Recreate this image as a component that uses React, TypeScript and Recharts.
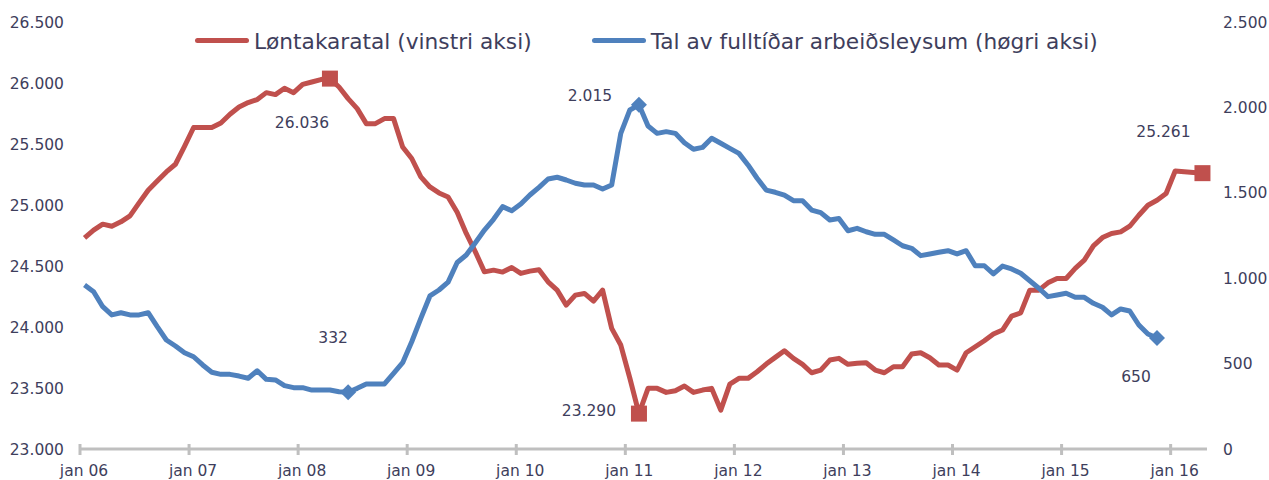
import React from "react";
import { LineChart, Line, XAxis, YAxis, Legend } from "recharts";

const TICK_LABELS = [
  "jan 06", "jan 07", "jan 08", "jan 09", "jan 10", "jan 11",
  "jan 12", "jan 13", "jan 14", "jan 15", "jan 16",
];

// Løntakaratal, jan 06 - apr 16 (vinstri aksi)
const LONTAKARAR = [
  24730, 24794, 24843, 24826, 24862, 24911, 25017, 25121, 25197, 25271, 25334, 25481,
  25635, 25635, 25635, 25672, 25744, 25803, 25840, 25864, 25921, 25905, 25957, 25921,
  25989, 26008, 26028, 26036, 25967, 25872, 25790, 25667, 25667, 25708, 25708, 25476,
  25381, 25230, 25148, 25099, 25066, 24940, 24767, 24616, 24452, 24466, 24450, 24488,
  24439, 24458, 24470, 24370, 24302, 24179, 24261, 24275, 24212, 24302, 23989, 23852,
  23580, 23290, 23497, 23497, 23464, 23478, 23516, 23464, 23483, 23497, 23319, 23532,
  23579, 23579, 23633, 23696, 23751, 23805, 23743, 23694, 23625, 23647, 23729, 23743,
  23694, 23702, 23707, 23647, 23625, 23674, 23674, 23778, 23789, 23748, 23688, 23688,
  23647, 23789, 23838, 23887, 23942, 23975, 24089, 24116, 24302, 24302, 24362, 24398,
  24398, 24480, 24548, 24665, 24733, 24767, 24780, 24826, 24916, 24998, 25039, 25094,
  25279, 25272, 25266, 25261,
];

// Tal av fulltíðar arbeiðsleysum, jan 06 - nov 15 (høgri aksi)
const ARBEIDSLEYSI = [
  960, 921, 833, 785, 798, 785, 785, 798, 716, 638, 603, 564,
  540, 492, 449, 437, 437, 427, 414, 458, 408, 404, 371, 359,
  359, 345, 345, 345, 335, 332, 355, 381, 381, 381, 443, 505,
  628, 765, 896, 931, 977, 1092, 1136, 1208, 1282, 1345, 1419, 1395,
  1434, 1487, 1532, 1581, 1591, 1575, 1556, 1546, 1546, 1522, 1546, 1848,
  1985, 2015, 1891, 1848, 1858, 1848, 1793, 1755, 1766, 1819, 1790, 1760,
  1731, 1663, 1585, 1516, 1503, 1487, 1454, 1454, 1399, 1384, 1341, 1349,
  1278, 1292, 1272, 1257, 1257, 1224, 1190, 1175, 1132, 1142, 1152, 1161,
  1142, 1161, 1073, 1073, 1025, 1071, 1054, 1029, 985, 941, 892, 902,
  912, 888, 888, 853, 830, 785, 820, 808, 726, 673, 650,
];

const LEFT_TICKS = [23000, 23500, 24000, 24500, 25000, 25500, 26000, 26500];
const RIGHT_TICKS = [0, 500, 1000, 1500, 2000, 2500];

const RED = "#C0504D";
const BLUE = "#4F81BD";
const TEXT = "#3E3E5C";
const GRID = "#BFBFBF";
const FONT = "DejaVu Sans";

// label offsets for the marked points (index -> [dx, dy])
const RED_MARKS: Record<number, [number, number]> = { 27: [-28, 44], 61: [-50, -3], 123: [-39, -41] };
const BLUE_MARKS: Record<number, [number, number]> = { 29: [-15, -54], 61: [-49, -9], 118: [-21, 39] };

const data = LONTAKARAR.map((v, i) => ({
  i,
  lon: v,
  arb: i < ARBEIDSLEYSI.length ? ARBEIDSLEYSI[i] : null,
}));

const fmt = (v: number) => String(Math.round(v)).replace(/\B(?=(\d{3})+(?!\d))/g, ".");

const XTick = (props: any) => {
  const { x, y, payload } = props;
  const k = Math.round((payload.value + 0.5) / 12);
  const axisY = y - 5;
  return (
    <g>
      <line x1={x} x2={x} y1={axisY - 5} y2={axisY + 6} stroke={GRID} strokeWidth={3} />
      <text x={x + 4} y={axisY + 27} textAnchor="middle" fill={TEXT} fontSize={15.5} fontFamily={FONT}>
        {TICK_LABELS[k]}
      </text>
    </g>
  );
};

const makeDot = (marks: Record<number, [number, number]>, color: string, shape: "square" | "diamond") =>
  (p: any) => {
    const off = marks[p.index];
    if (!off || p.cx == null || p.cy == null) return <g key={`d-${p.index}`} />;
    const s = 8;
    return (
      <g key={`d-${p.index}`}>
        {shape === "square" ? (
          <rect x={p.cx - s} y={p.cy - s} width={s * 2} height={s * 2} fill={color} />
        ) : (
          <polygon
            points={`${p.cx},${p.cy - s} ${p.cx + s},${p.cy} ${p.cx},${p.cy + s} ${p.cx - s},${p.cy}`}
            fill={color}
          />
        )}
        <text
          x={p.cx + off[0]}
          y={p.cy + off[1]}
          textAnchor="middle"
          dominantBaseline="central"
          fill={TEXT}
          fontSize={15.5}
          fontFamily={FONT}
        >
          {fmt(p.value)}
        </text>
      </g>
    );
  };

const LegendContent = (props: any) => {
  const items = props.payload || [];
  return (
    <div
      style={{
        display: "flex",
        alignItems: "center",
        paddingLeft: 195,
        fontFamily: FONT,
        fontSize: 21.7,
        lineHeight: "22px",
        color: TEXT,
        whiteSpace: "nowrap",
      }}
    >
      {items.map((it: any, k: number) => (
        <React.Fragment key={k}>
          <span
            style={{
              display: "inline-block",
              width: 54,
              height: 5,
              borderRadius: 3,
              background: it.color,
              marginLeft: k === 0 ? 0 : 60,
              marginRight: 5,
              position: "relative",
              top: -2,
            }}
          />
          <span>{it.value}</span>
        </React.Fragment>
      ))}
    </div>
  );
};

export default function App() {
  return (
    <div style={{ position: "absolute", left: 0, top: 0, width: 1269, height: 480, background: "#fff" }}>
      <LineChart width={1269} height={480} data={data} margin={{ top: 22, right: 0, bottom: 0, left: 0 }}>
        <XAxis
          dataKey="i"
          type="number"
          domain={[-0.5, LONTAKARAR.length - 0.5]}
          ticks={TICK_LABELS.map((_, k) => k * 12 - 0.5)}
          interval={0}
          height={31}
          axisLine={{ stroke: GRID, strokeWidth: 3 }}
          tickLine={false}
          tickSize={5}
          tickMargin={0}
          tick={<XTick />}
        />
        <YAxis
          yAxisId="left"
          domain={[23000, 26500]}
          ticks={LEFT_TICKS}
          width={80}
          axisLine={false}
          tickLine={false}
          tickMargin={10}
          tickFormatter={fmt}
          tick={{ fontSize: 15.5, fill: TEXT, fontFamily: FONT }}
        />
        <YAxis
          yAxisId="right"
          orientation="right"
          domain={[0, 2500]}
          ticks={RIGHT_TICKS}
          width={62}
          axisLine={false}
          tickLine={false}
          tickMargin={10}
          tickFormatter={fmt}
          tick={{ fontSize: 15.5, fill: TEXT, fontFamily: FONT }}
        />
        <Legend
          layout="horizontal"
          verticalAlign="middle"
          wrapperStyle={{ top: 31, left: 0, width: 1269, height: 22 }}
          content={<LegendContent />}
        />
        <Line
          yAxisId="left"
          dataKey="lon"
          name="Løntakaratal (vinstri aksi)"
          stroke={RED}
          strokeWidth={5}
          strokeLinejoin="round"
          type="linear"
          dot={makeDot(RED_MARKS, RED, "square")}
          activeDot={false}
          isAnimationActive={false}
        />
        <Line
          yAxisId="right"
          dataKey="arb"
          name="Tal av fulltíðar arbeiðsleysum (høgri aksi)"
          stroke={BLUE}
          strokeWidth={5}
          strokeLinejoin="round"
          type="linear"
          dot={makeDot(BLUE_MARKS, BLUE, "diamond")}
          activeDot={false}
          isAnimationActive={false}
        />
      </LineChart>
    </div>
  );
}
